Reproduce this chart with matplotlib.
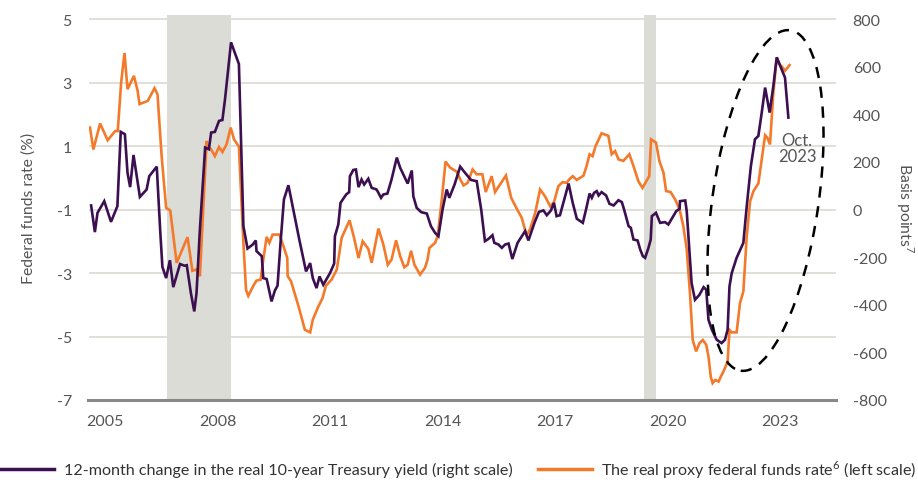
import matplotlib
matplotlib.use("Agg")
import matplotlib.pyplot as plt
from matplotlib.patches import Ellipse
from matplotlib.lines import Line2D

plt.rcParams['font.family'] = ['Lato', 'DejaVu Sans']
plt.rcParams['mathtext.fontset'] = 'custom'
plt.rcParams['mathtext.rm'] = 'Lato'

# ---- data ----
fed_years = [2004.60, 2004.69, 2004.87, 2005.07, 2005.27, 2005.34, 2005.43, 2005.52, 2005.60, 2005.77,
             2005.87, 2005.92, 2006.14, 2006.32, 2006.40, 2006.51, 2006.63, 2006.74, 2006.91, 2007.20,
             2007.33, 2007.43, 2007.53, 2007.71, 2007.74, 2007.83, 2007.93, 2008.04, 2008.13, 2008.24,
             2008.35, 2008.44, 2008.57, 2008.69, 2008.76, 2008.82, 2008.97, 2009.04, 2009.15, 2009.22,
             2009.31, 2009.38, 2009.47, 2009.65, 2009.76, 2009.86, 2009.87, 2009.96, 2010.16, 2010.33,
             2010.47, 2010.54, 2010.69, 2010.80, 2010.89, 2011.04, 2011.18, 2011.31, 2011.52, 2011.64,
             2011.76, 2011.87, 2012.02, 2012.11, 2012.29, 2012.42, 2012.54, 2012.64, 2012.76, 2012.87,
             2012.98, 2013.07, 2013.16, 2013.25, 2013.40, 2013.53, 2013.60, 2013.65, 2013.80, 2013.87,
             2013.98, 2014.08, 2014.20, 2014.38, 2014.47, 2014.56, 2014.67, 2014.80, 2014.91, 2015.06,
             2015.15, 2015.31, 2015.40, 2015.69, 2015.83, 2015.98, 2016.11, 2016.24, 2016.33, 2016.47,
             2016.60, 2016.73, 2016.87, 2016.97, 2017.09, 2017.20, 2017.31, 2017.38, 2017.47, 2017.58,
             2017.76, 2017.84, 2017.92, 2018.00, 2018.08, 2018.24, 2018.42, 2018.51, 2018.60, 2018.69,
             2018.82, 2018.98, 2019.09, 2019.22, 2019.33, 2019.51, 2019.56, 2019.69, 2019.78, 2019.89,
             2019.96, 2020.08, 2020.20, 2020.32, 2020.42, 2020.51, 2020.60, 2020.67, 2020.76, 2020.85,
             2020.94, 2021.03, 2021.09, 2021.15, 2021.20, 2021.27, 2021.36, 2021.42, 2021.49, 2021.60,
             2021.65, 2021.71, 2021.84, 2021.93, 2022.02, 2022.11, 2022.20, 2022.29, 2022.42, 2022.51,
             2022.60, 2022.66, 2022.73, 2022.82, 2022.91, 2022.98, 2023.07, 2023.13, 2023.20, 2023.25]
fed_rate = [1.58, 0.89, 1.71, 1.18, 1.47, 1.47, 3.00, 3.93, 2.79, 3.21,
            2.74, 2.32, 2.42, 2.82, 2.63, 0.68, -0.95, -1.03, -2.68, -1.87,
            -2.93, -2.89, -3.10, 1.16, 1.00, 0.89, 0.68, 0.97, 0.81, 1.05,
            1.58, 1.21, 0.98, -2.05, -3.53, -3.72, -3.37, -3.24, -3.21, -2.58,
            -1.86, -2.05, -1.79, -1.79, -2.16, -2.53, -3.10, -3.26, -4.05, -4.79,
            -4.87, -4.47, -4.05, -3.79, -3.40, -3.21, -2.89, -1.89, -1.34, -1.89,
            -2.53, -2.00, -2.24, -2.68, -1.60, -2.10, -2.74, -2.58, -1.97, -2.47,
            -2.82, -2.74, -2.30, -2.74, -3.05, -2.84, -2.58, -2.21, -2.05, -1.84,
            -0.68, 0.51, 0.32, 0.19, -0.05, -0.24, -0.16, 0.26, 0.11, 0.11,
            -0.45, 0.05, -0.45, 0.07, -0.63, -0.98, -1.26, -1.81, -1.63, -1.11,
            -0.37, -0.58, -0.90, -0.77, -0.26, -0.14, -0.16, -0.05, 0.05, -0.07,
            0.07, 0.37, 0.74, 0.68, 1.00, 1.40, 1.32, 0.74, 0.84, 0.58,
            0.53, 0.74, 0.37, -0.11, -0.32, 0.05, 1.21, 1.11, 0.53, 0.16,
            -0.42, -0.45, -0.68, -1.00, -1.53, -2.26, -3.70, -5.11, -5.47, -5.21,
            -5.11, -5.26, -5.63, -6.26, -6.47, -6.37, -6.42, -6.26, -6.10, -5.79,
            -4.79, -4.87, -4.87, -3.95, -3.58, -1.84, -0.74, -0.42, -0.18, 0.58,
            1.34, 1.26, 1.05, 2.68, 3.79, 3.58, 3.47, 3.37, 3.47, 3.55]

tsy_years = [2004.63, 2004.73, 2004.80, 2004.98, 2005.16, 2005.33, 2005.42, 2005.53, 2005.60, 2005.67,
             2005.76, 2005.93, 2006.11, 2006.18, 2006.38, 2006.47, 2006.53, 2006.63, 2006.73, 2006.82,
             2007.00, 2007.12, 2007.18, 2007.29, 2007.38, 2007.44, 2007.53, 2007.67, 2007.77, 2007.83,
             2007.93, 2008.04, 2008.13, 2008.20, 2008.36, 2008.57, 2008.69, 2008.80, 2008.94, 2009.02,
             2009.04, 2009.18, 2009.22, 2009.31, 2009.44, 2009.53, 2009.60, 2009.68, 2009.77, 2009.89,
             2010.02, 2010.18, 2010.36, 2010.47, 2010.54, 2010.64, 2010.72, 2010.82, 2011.00, 2011.11,
             2011.13, 2011.22, 2011.28, 2011.43, 2011.51, 2011.53, 2011.62, 2011.69, 2011.76, 2011.84,
             2011.91, 2012.02, 2012.11, 2012.24, 2012.29, 2012.36, 2012.42, 2012.53, 2012.64, 2012.78,
             2012.87, 2013.07, 2013.18, 2013.22, 2013.31, 2013.43, 2013.58, 2013.69, 2013.80, 2013.89,
             2014.00, 2014.11, 2014.18, 2014.32, 2014.47, 2014.60, 2014.76, 2014.91, 2015.03, 2015.13,
             2015.22, 2015.33, 2015.38, 2015.49, 2015.58, 2015.67, 2015.76, 2015.86, 2016.00, 2016.20,
             2016.29, 2016.45, 2016.57, 2016.69, 2016.78, 2016.89, 2016.97, 2017.04, 2017.13, 2017.22,
             2017.36, 2017.47, 2017.58, 2017.74, 2017.83, 2017.92, 2017.98, 2018.04, 2018.11, 2018.16,
             2018.24, 2018.36, 2018.45, 2018.56, 2018.69, 2018.78, 2018.84, 2018.96, 2019.02, 2019.09,
             2019.20, 2019.27, 2019.34, 2019.40, 2019.49, 2019.55, 2019.58, 2019.69, 2019.80, 2019.93,
             2020.02, 2020.11, 2020.23, 2020.32, 2020.33, 2020.47, 2020.51, 2020.64, 2020.73, 2020.85,
             2020.96, 2021.03, 2021.09, 2021.18, 2021.31, 2021.44, 2021.53, 2021.60, 2021.65, 2021.71,
             2021.84, 2022.02, 2022.11, 2022.22, 2022.33, 2022.42, 2022.51, 2022.60, 2022.72, 2022.82,
             2022.91, 2023.02, 2023.13, 2023.22]
tsy_change = [17, -95, -14, 35, -52, 14, 326, 316, 154, 94,
              229, 53, 84, 140, 180, -84, -241, -288, -213, -326,
              -229, -236, -234, -351, -428, -351, -84, 260, 253, 323,
              326, 372, 376, 463, 702, 611, -70, -164, -147, -130,
              -175, -196, -288, -292, -386, -340, -320, -140, 42, 102,
              0, -126, -260, -225, -288, -330, -281, -316, -267, -227,
              -112, -63, 28, 63, 73, 140, 166, 168, 94, 126,
              105, 129, 91, 84, 70, 49, 63, 67, 126, 218,
              175, 109, 164, 56, 7, -11, -17, -70, -98, -112,
              0, 84, 49, 105, 180, 154, 124, 119, 0, -133,
              -124, -108, -140, -147, -161, -147, -143, -208, -140, -91,
              -130, -56, -10, -4, -24, -4, 28, -28, -24, 28,
              109, 28, -39, -56, 3, 67, 49, 70, 77, 59,
              73, 59, 24, 17, 39, 31, 0, -70, -77, -126,
              -130, -168, -196, -203, -161, -126, -28, -14, -56, -53,
              -63, -39, -7, 3, 35, 38, -7, -309, -379, -358,
              -326, -337, -463, -505, -547, -561, -547, -505, -323, -267,
              -203, -140, 14, 182, 295, 309, 407, 512, 407, 519,
              639, 596, 554, 386]

recessions = [(2006.65, 2008.36), (2019.36, 2019.68)]
x_ticks = [2005, 2008, 2011, 2014, 2017, 2020, 2023]
left_ticks = [5, 3, 1, -1, -3, -5, -7]
right_ticks = [800, 600, 400, 200, 0, -200, -400, -600, -800]

PURPLE = '#3b0f50'
ORANGE = '#f47a2b'
GRAY_TXT = '#555555'

fig = plt.figure(figsize=(9.18, 4.81), dpi=100)
ax = fig.add_axes([88.5 / 918, 1 - 401 / 481, (836 - 88.5) / 918, (401 - 16) / 481])
ax2 = ax.twinx()

for a, b in recessions:
    ax.axvspan(a, b, color='#dcdcd6', lw=0, zorder=0)

ax.plot(fed_years, fed_rate, color=ORANGE, lw=1.9, zorder=3, solid_joinstyle='miter')
ax2.plot(tsy_years, tsy_change, color=PURPLE, lw=1.9, zorder=3, solid_joinstyle='miter')

ax.set_xlim(2004.56, 2024.49)
ax.set_ylim(-7, 5.126)
ax2.set_ylim(-800, 816.8)

ax.set_xticks(x_ticks)
ax.set_xticklabels([str(t) for t in x_ticks])
ax.set_yticks(left_ticks)
ax.set_yticklabels([str(t) for t in left_ticks])
ax2.set_yticks(right_ticks)
ax2.set_yticklabels([str(t) for t in right_ticks])

for t in left_ticks:
    if t != -7:
        ax.axhline(t, color='#dddcd6', lw=1.3, zorder=1)

for a in (ax, ax2):
    for s in ('top', 'left', 'right', 'bottom'):
        a.spines[s].set_visible(False)
    a.tick_params(length=0, labelsize=11.5, colors=GRAY_TXT)
ax.spines['bottom'].set_visible(True)
ax.spines['bottom'].set_color('#888888')
ax.spines['bottom'].set_linewidth(2.2)
ax.tick_params(axis='x', pad=10)
ax.tick_params(axis='y', pad=12)
ax2.tick_params(axis='y', pad=12)

ax.set_ylabel('Federal funds rate (%)', fontsize=11.3, color=GRAY_TXT, labelpad=15)
ax2.set_ylabel('Basis points$^{7}$', fontsize=11.3, color=GRAY_TXT, rotation=-90, labelpad=21)

ax2.text(2023.45, 258, 'Oct.\n2023', ha='center', va='center', fontsize=12,
         color=GRAY_TXT, linespacing=0.95, zorder=5)

ell = Ellipse((7.655, 4.81 - 2.015), width=1.06, height=3.44, angle=-8.3,
              transform=fig.dpi_scale_trans, fill=False, edgecolor='black',
              lw=1.8, linestyle=(0, (4.5, 3.5)), clip_on=False, zorder=6)
fig.add_artist(ell)

handles = [Line2D([], [], color=PURPLE, lw=2.5), Line2D([], [], color=ORANGE, lw=2.5)]
labels = ['12-month change in the real 10-year Treasury yield (right scale)',
          'The real proxy federal funds rate$^{6}$ (left scale)']
fig.legend(handles, labels, loc='center', bbox_to_anchor=(0.5, 1 - 470 / 481), ncol=2,
           frameon=False, fontsize=11.6, handlelength=3.3, handletextpad=0.6,
           columnspacing=1.6, labelcolor='#333333', borderaxespad=0, borderpad=0)

fig.savefig('out.png', dpi=100)
